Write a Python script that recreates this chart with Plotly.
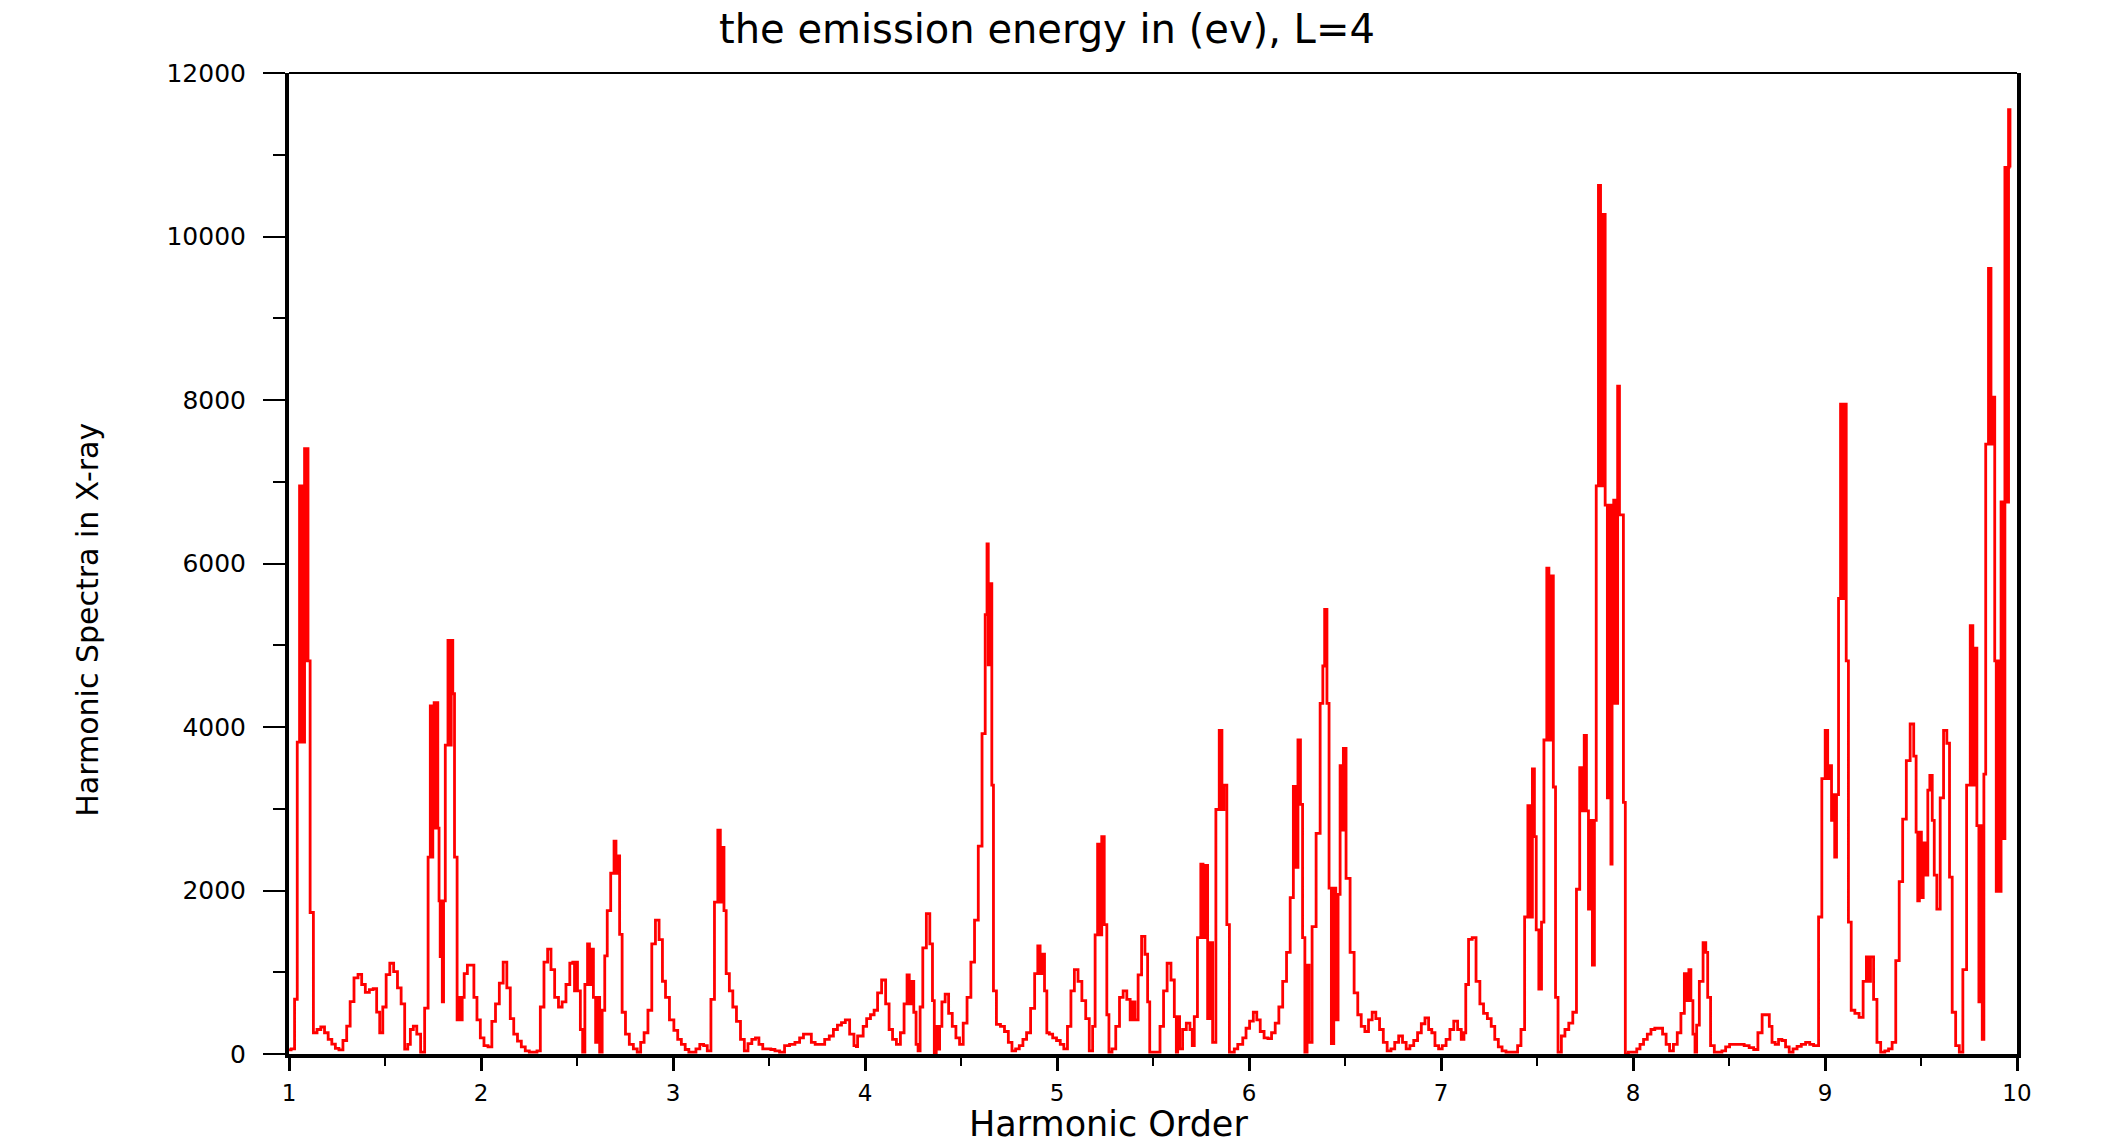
import plotly.graph_objects as go

# Harmonic order (x) and harmonic spectra intensity (y)
harmonic_order = [
    1.000, 1.022, 1.036, 1.050, 1.060, 1.066, 1.072, 1.078, 1.084, 1.090, 1.096, 1.102,
    1.118, 1.136, 1.156, 1.175, 1.195, 1.213, 1.233, 1.250, 1.270, 1.292, 1.309, 1.328,
    1.349, 1.370, 1.387, 1.408, 1.429, 1.448, 1.465, 1.480, 1.497, 1.515, 1.535, 1.555,
    1.575, 1.593, 1.612, 1.625, 1.639, 1.656, 1.675, 1.696, 1.717, 1.732, 1.740, 1.746,
    1.752, 1.760, 1.766, 1.772, 1.778, 1.785, 1.790, 1.795, 1.802, 1.808, 1.820, 1.836,
    1.842, 1.848, 1.858, 1.866, 1.885, 1.893, 1.899, 1.905, 1.920, 1.938,
    # 2 - 3
    1.956, 1.970, 1.988, 2.005, 2.026, 2.047, 2.066, 2.085, 2.106, 2.125, 2.144, 2.161,
    2.180, 2.200, 2.220, 2.241, 2.262, 2.283, 2.300, 2.318, 2.338, 2.356, 2.373, 2.394,
    2.413, 2.432, 2.453, 2.472, 2.484, 2.490, 2.496, 2.509, 2.526, 2.533, 2.549, 2.561,
    2.569, 2.581, 2.590, 2.604, 2.613, 2.623, 2.639, 2.650, 2.665, 2.686, 2.700, 2.706,
    2.717, 2.727, 2.743, 2.762, 2.783, 2.804, 2.823, 2.840, 2.859, 2.880, 2.899, 2.918,
    2.937, 2.953,
    # 3 - 4
    2.969, 2.994, 3.015, 3.034, 3.053, 3.074, 3.091, 3.110, 3.129, 3.150, 3.169, 3.188,
    3.207, 3.225, 3.242, 3.251, 3.261, 3.270, 3.284, 3.303, 3.320, 3.341, 3.362, 3.381,
    3.400, 3.421, 3.438, 3.457, 3.478, 3.499, 3.520, 3.542, 3.568, 3.594, 3.620, 3.650,
    3.669, 3.690, 3.711, 3.730, 3.751, 3.777, 3.803, 3.825, 3.846, 3.867, 3.888, 3.907,
    3.933, 3.952,
    # 4 - 5
    3.958, 3.965, 3.982, 3.999, 4.018, 4.039, 4.056, 4.075, 4.098, 4.117, 4.134, 4.153,
    4.174, 4.195, 4.212, 4.226, 4.235, 4.247, 4.261, 4.271, 4.282, 4.292, 4.310, 4.329,
    4.346, 4.357, 4.365, 4.377, 4.385, 4.392, 4.409, 4.426, 4.445, 4.464, 4.483, 4.502,
    4.521, 4.542, 4.561, 4.580, 4.600, 4.619, 4.633, 4.638, 4.646, 4.657, 4.664, 4.674,
    4.695, 4.716, 4.737, 4.756, 4.775, 4.794, 4.813, 4.832, 4.851, 4.874, 4.893, 4.907,
    4.917, 4.928, 4.942, 4.952,
    # 5 - 6
    4.968, 4.987, 5.008, 5.026, 5.045, 5.064, 5.081, 5.100, 5.119, 5.140, 5.159, 5.177,
    5.194, 5.203, 5.220, 5.229, 5.237, 5.255, 5.264, 5.277, 5.296, 5.316, 5.335, 5.354,
    5.373, 5.389, 5.399, 5.413, 5.432, 5.449, 5.467, 5.477, 5.489, 5.508, 5.527, 5.546,
    5.564, 5.583, 5.604, 5.618, 5.625, 5.632, 5.645, 5.663, 5.684, 5.701, 5.708, 5.722,
    5.741, 5.757, 5.764, 5.779, 5.790, 5.802, 5.819, 5.836, 5.854, 5.864, 5.875, 5.894,
    5.902, 5.915, 5.932, 5.951,
    # 6 - 7
    5.959, 5.976, 5.993, 6.013, 6.032, 6.049, 6.068, 6.089, 6.108, 6.127, 6.146, 6.165,
    6.186, 6.205, 6.224, 6.238, 6.247, 6.263, 6.273, 6.285, 6.297, 6.308, 6.318, 6.339,
    6.360, 6.381, 6.388, 6.400, 6.412, 6.422, 6.436, 6.447, 6.457, 6.471, 6.478, 6.488,
    6.495, 6.516, 6.537, 6.558, 6.575, 6.594, 6.613, 6.632, 6.651, 6.670, 6.690, 6.709,
    6.730, 6.749, 6.769, 6.790, 6.809, 6.828, 6.848, 6.868, 6.888, 6.907, 6.926, 6.945,
    # 7 - 8
    6.959, 6.978, 6.997, 7.016, 7.037, 7.056, 7.077, 7.096, 7.115, 7.124, 7.134, 7.153,
    7.172, 7.193, 7.212, 7.231, 7.252, 7.271, 7.289, 7.308, 7.328, 7.349, 7.370, 7.391,
    7.407, 7.426, 7.445, 7.460, 7.471, 7.481, 7.492, 7.500, 7.519, 7.528, 7.544, 7.558,
    7.566, 7.578, 7.592, 7.601, 7.618, 7.636, 7.655, 7.676, 7.697, 7.714, 7.731, 7.740,
    7.752, 7.763, 7.773, 7.783, 7.794, 7.804, 7.813, 7.827, 7.835, 7.849, 7.861, 7.872,
    7.882, 7.888, 7.894, 7.905, 7.914, 7.926, 7.933, 7.947, 7.953, 7.967,
    # 8 - 9
    7.985, 8.011, 8.028, 8.045, 8.065, 8.084, 8.103, 8.124, 8.144, 8.164, 8.181, 8.200,
    8.221, 8.240, 8.259, 8.276, 8.285, 8.297, 8.306, 8.318, 8.328, 8.335, 8.356, 8.374,
    8.384, 8.394, 8.414, 8.433, 8.453, 8.473, 8.492, 8.514, 8.540, 8.566, 8.592, 8.618,
    8.639, 8.662, 8.683, 8.703, 8.717, 8.731, 8.750, 8.766, 8.785, 8.804, 8.823, 8.844,
    8.865, 8.888, 8.910, 8.931, 8.950,
    # 9 - 10
    8.958, 8.975, 8.992, 9.010, 9.018, 9.029, 9.039, 9.048, 9.053, 9.067, 9.074, 9.088,
    9.098, 9.105, 9.116, 9.128, 9.145, 9.166, 9.189, 9.208, 9.223, 9.230, 9.244, 9.262,
    9.279, 9.301, 9.322, 9.340, 9.359, 9.378, 9.395, 9.414, 9.433, 9.454, 9.470, 9.479,
    9.487, 9.496, 9.508, 9.515, 9.532, 9.539, 9.553, 9.564, 9.574, 9.591, 9.609, 9.626,
    9.643, 9.654, 9.671, 9.690, 9.709, 9.727, 9.748, 9.765, 9.775, 9.786, 9.796, 9.807,
    9.814, 9.824, 9.831, 9.843, 9.860, 9.869, 9.881, 9.887, 9.897, 9.904, 9.913, 9.921,
    9.932, 9.942, 9.951, 9.961, 9.966,
]

spectra = [
    50, 63, 670, 3815, 6950, 3815, 6950, 3815, 7406, 4809, 7406, 4809,
    1731, 260, 300, 330, 260, 180, 120, 70, 50, 165, 340, 640,
    930, 975, 850, 755, 787, 800, 512, 260, 575, 970, 1110, 1007,
    810, 614, 60, 118, 300, 340, 244, 24, 560, 2408, 4258, 2408,
    4258, 4297, 2762, 4297, 2762, 1873, 1190, 1873, 637, 1873, 3778, 5060,
    3778, 5060, 4407, 2408, 417, 693, 417, 693, 984, 1086,
    # 2 - 3
    1086, 693, 417, 197, 102, 87, 400, 614, 866, 1125, 810, 433,
    244, 157, 87, 39, 24, 24, 39, 575, 1125, 1283, 1031, 693,
    575, 637, 850, 1110, 1125, 771, 1125, 771, 300, 24, 850, 1346,
    850, 1283, 693, 142, 693, 24, 535, 1200, 1755, 2211, 2605, 2211,
    2424, 1464, 511, 244, 118, 63, 24, 142, 260, 535, 1346, 1637,
    1400, 890,
    # 3 - 4
    693, 417, 290, 180, 118, 55, 24, 24, 63, 118, 102, 39,
    669, 1857, 2739, 1857, 2526, 1755, 984, 771, 575, 400, 180, 39,
    126, 180, 197, 118, 63, 63, 55, 39, 24, 102, 118, 142,
    197, 244, 244, 142, 118, 118, 180, 220, 300, 354, 385, 417,
    244, 102,
    # 4 - 5
    90, 220, 220, 338, 433, 480, 535, 748, 905, 614, 300, 180,
    118, 260, 614, 968, 614, 889, 511, 118, 39, 575, 1299, 1716,
    1346, 653, 8, 338, 60, 338, 637, 732, 496, 338, 197, 118,
    378, 693, 1125, 1637, 2542, 3919, 5375, 6241, 4761, 5753, 3290, 771,
    362, 338, 275, 142, 39, 63, 102, 180, 260, 559, 984, 1322,
    984, 1220, 771, 260,
    # 5 - 6
    244, 197, 165, 118, 63, 338, 771, 1031, 889, 653, 433, 39,
    338, 1456, 2566, 1456, 2660, 1582, 480, 24, 63, 338, 693, 771,
    669, 417, 637, 417, 968, 1440, 1220, 637, 24, 24, 24, 338,
    771, 1110, 905, 456, 24, 456, 63, 300, 378, 300, 102, 456,
    1424, 2322, 1424, 2306, 433, 1361, 142, 2991, 3959, 2991, 3290, 1582,
    24, 24, 63, 118,
    # 6 - 7
    118, 197, 315, 401, 511, 417, 275, 197, 189, 260, 378, 575,
    889, 1243, 1912, 3274, 2282, 3841, 3054, 1424, 24, 1086, 142, 1558,
    2699, 4289, 4746, 5438, 4289, 2030, 126, 2030, 417, 1952, 3526, 2739,
    3738, 2149, 1243, 748, 480, 338, 275, 417, 511, 433, 300, 142,
    39, 63, 142, 220, 142, 63, 102, 165, 260, 370, 441, 300,
    # 7 - 8
    260, 102, 63, 102, 180, 300, 401, 300, 180, 260, 850, 1401,
    1424, 889, 614, 496, 433, 338, 180, 87, 39, 24, 24, 24,
    102, 300, 1676, 3038, 1676, 3486, 2660, 1519, 795, 1613, 3841, 5942,
    3841, 5847, 3266, 693, 24, 220, 300, 378, 511, 2015, 3502, 2975,
    3896, 2975, 1771, 2857, 1086, 2857, 6949, 10625, 6949, 10270, 6713, 3132,
    6713, 2322, 4289, 6776, 4289, 8169, 6595, 6595, 3077, 0,
    # 8 - 9
    24, 24, 63, 118, 180, 244, 300, 315, 315, 244, 118, 39,
    118, 260, 496, 984, 653, 1031, 653, 244, 24, 354, 889, 1362,
    1243, 693, 102, 24, 24, 39, 87, 118, 118, 118, 102, 79,
    55, 260, 480, 480, 338, 142, 118, 180, 165, 87, 24, 63,
    94, 118, 142, 118, 102,
    # 9 - 10
    102, 1676, 3368, 3959, 3368, 3526, 2857, 3172, 2408, 3172, 5572, 7949,
    5572, 7949, 4809, 1613, 535, 496, 449, 889, 1188, 889, 1188, 669,
    142, 24, 39, 63, 142, 1141, 2109, 2873, 3589, 4037, 3644, 2715,
    1873, 2715, 1912, 2581, 2188, 3227, 3408, 2857, 2188, 1771, 3132, 3959,
    3801, 2164, 511, 102, 24, 1031, 3290, 5241, 3290, 4966, 2794, 637,
    2794, 180, 3423, 7461, 9609, 7461, 8035, 4809, 1991, 4809, 1991, 6752,
    2636, 10845, 6752, 11553, 10845,
]

y_ticks = [0, 2000, 4000, 6000, 8000, 10000, 12000]
x_ticks = [1, 2, 3, 4, 5, 6, 7, 8, 9, 10]

title_text = "the emission energy in (ev), L=4"
x_title = "Harmonic Order"
y_title = "Harmonic Spectra in X-ray"

FONT = "DejaVu Sans"

fig = go.Figure()
fig.add_trace(go.Scatter(
    x=harmonic_order, y=spectra, mode="lines",
    line=dict(color="#ff0000", width=2.8, shape="hvh"),
    showlegend=False, hoverinfo="x+y",
))

fig.update_layout(
    width=2104, height=1147,
    margin=dict(l=289, r=87, t=73, b=93, autoexpand=False),
    paper_bgcolor="white", plot_bgcolor="white",
    title=dict(text=title_text, x=0.4976, xref="container",
               xanchor="center", y=0.9747, yref="container", yanchor="middle",
               font=dict(family=FONT, size=40, color="black")),
    font=dict(family=FONT, color="black"),
    shapes=[dict(type="line", xref="paper", yref="paper", x0=0, x1=1, y0=1, y1=1,
                 line=dict(color="black", width=2))],
    annotations=[
        dict(text=x_title, xref="paper", yref="paper", x=0.4743, y=-0.0715,
             xanchor="center", yanchor="middle", showarrow=False,
             font=dict(family=FONT, size=35, color="black")),
        dict(text=y_title, xref="paper", yref="paper", x=-0.1168, y=0.4428,
             xanchor="center", yanchor="middle", textangle=-90, showarrow=False,
             font=dict(family=FONT, size=30, color="black")),
    ],
)

fig.update_xaxes(
    range=[1, 10], tickmode="array", tickvals=x_ticks, ticktext=[str(v) for v in x_ticks],
    showgrid=False, zeroline=False, showline=True, linecolor="black", linewidth=4,
    ticks="outside", ticklen=13, tickwidth=3, tickcolor="black",
    minor=dict(dtick=0.5, tick0=1, ticks="outside", ticklen=8, tickwidth=2, tickcolor="black"),
    tickfont=dict(family=FONT, size=23, color="black"),
    ticklabelstandoff=2, automargin=False,
)

fig.update_yaxes(
    range=[0, 12000], tickmode="array", tickvals=y_ticks, ticktext=[str(v) for v in y_ticks],
    showgrid=False, zeroline=False, showline=True, mirror=True, linecolor="black", linewidth=4,
    ticks="outside", ticklen=22, tickwidth=2, tickcolor="black",
    minor=dict(dtick=1000, tick0=0, ticks="outside", ticklen=12, tickwidth=2, tickcolor="black"),
    tickfont=dict(family=FONT, size=25, color="black"),
    ticklabelstandoff=12, automargin=False,
)

fig.write_html("out.html")
